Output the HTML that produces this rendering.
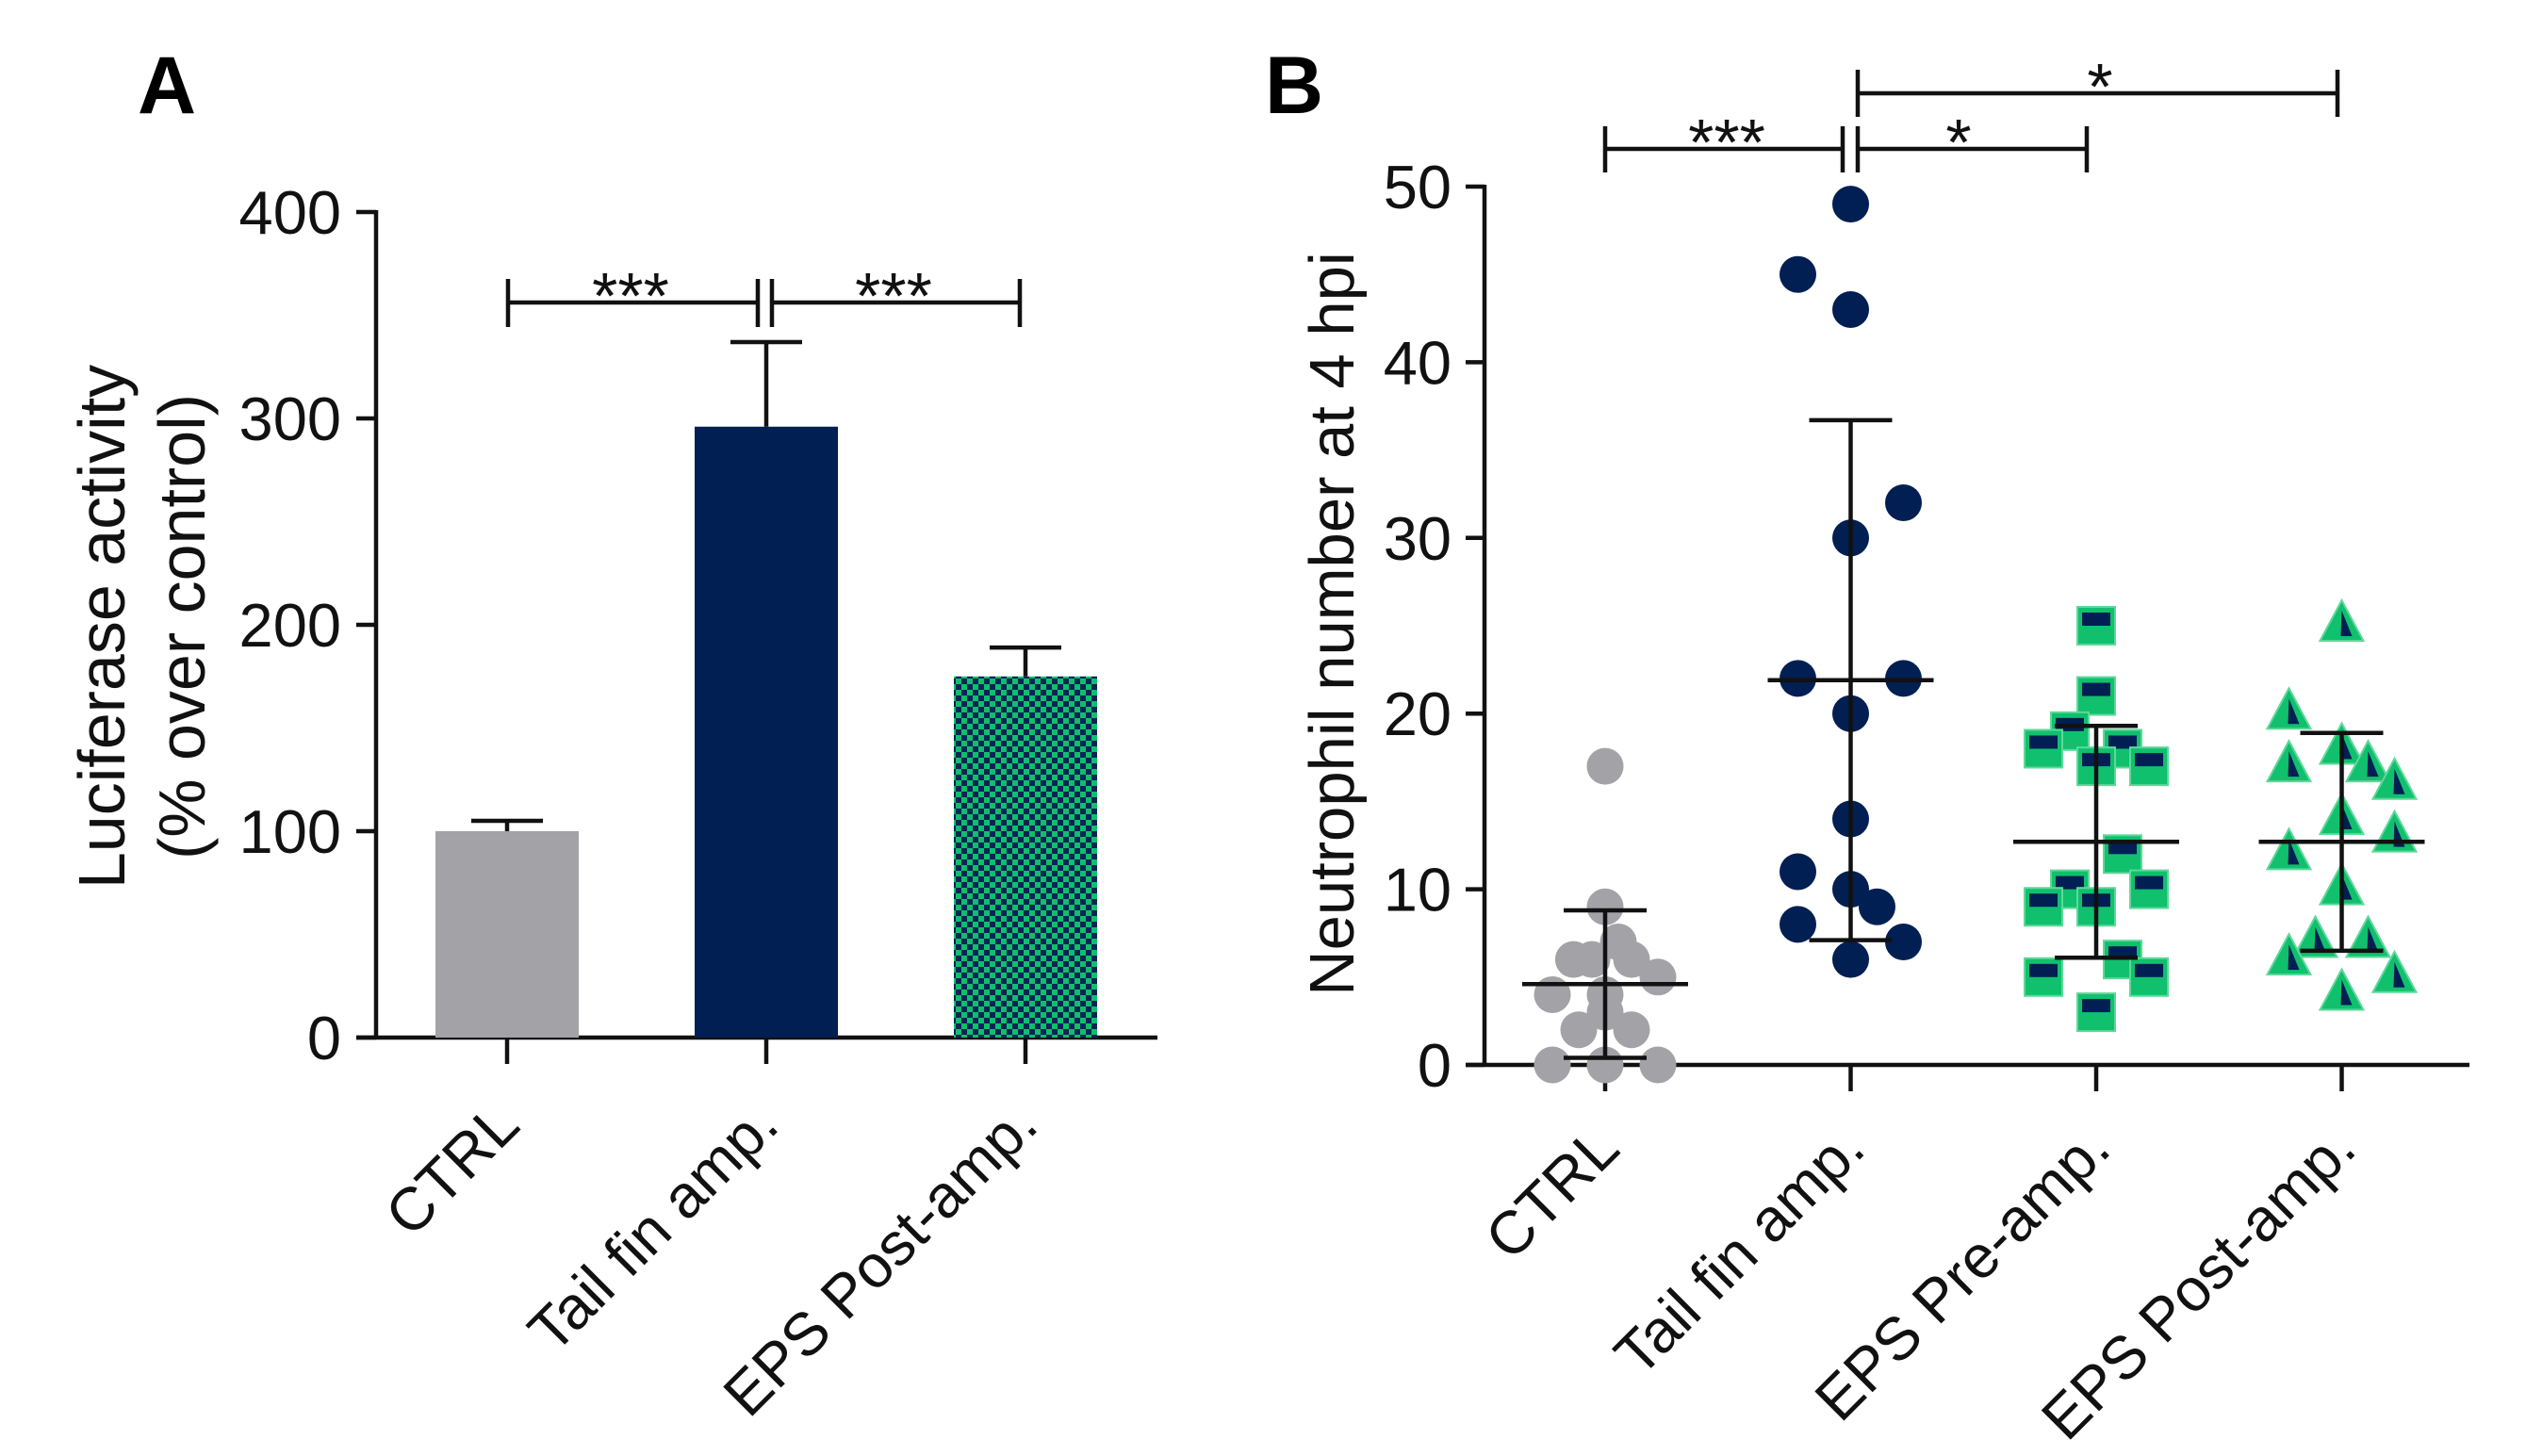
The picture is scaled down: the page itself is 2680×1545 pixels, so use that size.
<!DOCTYPE html>
<html><head><meta charset="utf-8"><style>
html,body{margin:0;padding:0;background:#fff;}
svg{display:block;font-family:"Liberation Sans",Arial,sans-serif;}
</style></head><body>
<svg id="fig" width="2680" height="1545" viewBox="0 0 2680 1545" xmlns="http://www.w3.org/2000/svg">
<defs>
<pattern id="chk" width="12" height="12" patternUnits="userSpaceOnUse">
<rect width="12" height="12" fill="#0fbf6c"/>
<rect width="6" height="6" fill="#0a2456"/>
<rect x="6" y="6" width="6" height="6" fill="#0a2456"/>
</pattern>
</defs>
<text x="146" y="120" font-size="86" font-weight="bold">A</text>
<text x="1342" y="120" font-size="86" font-weight="bold">B</text>
<g id="pa"></g>
<g id="pb"></g>
</svg>
<script>
// ---------- Panel A data ----------
const catsA = ["CTRL", "Tail fin amp.", "EPS Post-amp."];
const meansA = [100, 296, 175];
const errA = [5, 41, 14];
const ticksA = [0, 100, 200, 300, 400];
// ---------- Panel B data ----------
const catsB = ["CTRL", "Tail fin amp.", "EPS Pre-amp.", "EPS Post-amp."];
const ctrlVals = [17, 9, 7, 6, 6, 6, 5, 4, 4, 3, 2, 2, 0, 0, 0];
const ctrlJit = [0, 0, 0.5, -1.2, -0.5, 1, 2, -2, 0, 0, -1, 1, -2, 0, 2];
const tailVals = [49, 45, 43, 32, 30, 22, 22, 20, 14, 11, 10, 9, 8, 7, 6];
const tailJit = [0, -2, 0, 2, 0, -2, 2, 0, 0, -2, 0, 1, -2, 2, 0];
const preVals = [25, 21, 19, 18, 18, 17, 17, 12, 10, 10, 9, 9, 6, 5, 5, 3];
const preJit = [0, 0, -1, -2, 1, 0, 2, 1, -1, 2, -2, 0, 1, -2, 2, 0];
const postVals = [25, 20, 18, 17, 17, 16, 14, 13, 12, 10, 7, 7, 6, 5, 4];
const postJit = [0, -2, 0, -2, 1, 2, 0, 2, -2, 0, -1, 1, -2, 2, 0];
const meanB = [4.6, 21.9, 12.7, 12.7];
const sdB = [4.2, 14.8, 6.6, 6.2];
const ticksB = [0, 10, 20, 30, 40, 50];

const NS = "http://www.w3.org/2000/svg";
function mk(parent, tag, attrs, text) {
  const e = document.createElementNS(NS, tag);
  for (const k in attrs) e.setAttribute(k, attrs[k]);
  if (text !== undefined) e.textContent = text;
  parent.appendChild(e);
  return e;
}
const K = "#111";
const SW = 4.5;
// ---------- Panel A ----------
const pa = document.getElementById("pa");
const axA = {x0: 399, y0: 1101, x1: 1228, pxPer: 2.19};
const yA = v => axA.y0 - v * axA.pxPer;
const xA = i => 538 + i * 275;
let e;
e = mk(pa, "line", {x1: axA.x0, y1: yA(400) - 2, x2: axA.x0, y2: axA.y0, stroke: K, "stroke-width": SW});


e = mk(pa, "line", {x1: 378, y1: axA.y0, x2: axA.x1, y2: axA.y0, stroke: K, "stroke-width": SW});


ticksA.forEach(t => {
  e = mk(pa, "line", {x1: 378, y1: yA(t), x2: axA.x0, y2: yA(t), stroke: K, "stroke-width": SW});
  
  
  e = mk(pa, "text", {x: 362, y: yA(t) + 23, "font-size": 65, "text-anchor": "end", fill: K}, String(t));
  
  
});
const fillsA = ["#a3a2a7", "#011f52", "url(#chk)"];
catsA.forEach((c, i) => {
  const cx = xA(i), w = 152;
  e = mk(pa, "rect", {x: cx - w / 2, y: yA(meansA[i]), width: w, height: axA.y0 - yA(meansA[i]), fill: fillsA[i]});
  
  
  e = mk(pa, "line", {x1: cx, y1: yA(meansA[i]), x2: cx, y2: yA(meansA[i] + errA[i]), stroke: K, "stroke-width": SW});
  
  
  e = mk(pa, "line", {x1: cx - 38, y1: yA(meansA[i] + errA[i]), x2: cx + 38, y2: yA(meansA[i] + errA[i]), stroke: K, "stroke-width": SW});
  
  
  e = mk(pa, "line", {x1: cx, y1: axA.y0, x2: cx, y2: axA.y0 + 28, stroke: K, "stroke-width": SW});
  
  
  e = mk(pa, "text", {x: 0, y: 0, "font-size": 64, "text-anchor": "end", fill: K, transform: `translate(${cx + 16},${axA.y0 + 96}) rotate(-45)`}, c);
  
  
});
e = mk(pa, "text", {x: 0, y: 0, "font-size": 70, "text-anchor": "middle", fill: K, transform: "translate(132,665) rotate(-90)"}, "Luciferase activity");


e = mk(pa, "text", {x: 0, y: 0, "font-size": 70, "text-anchor": "middle", fill: K, transform: "translate(217,665) rotate(-90)"}, "(% over control)");


function bracket(g, x1, x2, y, yt, yb, label, lx, ly, name) {
  const b = mk(g, "g", {});
  
  
  mk(b, "line", {x1: x1, y1: y, x2: x2, y2: y, stroke: K, "stroke-width": SW});
  mk(b, "line", {x1: x1, y1: yt, x2: x1, y2: yb, stroke: K, "stroke-width": SW});
  mk(b, "line", {x1: x2, y1: yt, x2: x2, y2: yb, stroke: K, "stroke-width": SW});
  mk(b, "text", {x: lx, y: ly, "font-size": 70, "text-anchor": "middle", fill: K}, label);
}
bracket(pa, 539, 804, 321, 296, 347, "***", 669, 338, "sig-bracket-ctrl-tail");
bracket(pa, 819, 1082, 321, 296, 347, "***", 948, 338, "sig-bracket-tail-eps");

// ---------- Panel B ----------
const pb = document.getElementById("pb");
const axB = {x0: 1575, y0: 1130, x1: 2620, pxPer: 18.64};
const yB = v => axB.y0 - v * axB.pxPer;
const xB = i => 1703 + i * 260.5;
const J = 28;
e = mk(pb, "line", {x1: axB.x0, y1: yB(50) - 2, x2: axB.x0, y2: axB.y0, stroke: K, "stroke-width": SW});


e = mk(pb, "line", {x1: 1555, y1: axB.y0, x2: axB.x1, y2: axB.y0, stroke: K, "stroke-width": SW});


ticksB.forEach(t => {
  e = mk(pb, "line", {x1: 1555, y1: yB(t), x2: axB.x0, y2: yB(t), stroke: K, "stroke-width": SW});
  
  
  e = mk(pb, "text", {x: 1540, y: yB(t) + 23, "font-size": 65, "text-anchor": "end", fill: K}, String(t));
  
  
});
e = mk(pb, "text", {x: 0, y: 0, "font-size": 67, "text-anchor": "middle", fill: K, transform: "translate(1436,662) rotate(-90)"}, "Neutrophil number at 4 hpi");


catsB.forEach((c, i) => {
  const cx = xB(i);
  e = mk(pb, "line", {x1: cx, y1: axB.y0, x2: cx, y2: axB.y0 + 28, stroke: K, "stroke-width": SW});
  
  
  e = mk(pb, "text", {x: 0, y: 0, "font-size": 64, "text-anchor": "end", fill: K, transform: `translate(${cx + 18},${axB.y0 + 92}) rotate(-45)`}, c);
  
  
});
// points
ctrlVals.forEach((v, k) => {
  e = mk(pb, "circle", {cx: xB(0) + ctrlJit[k] * J, cy: yB(v), r: 19.5, fill: "#a3a2a7"});
  
  
});
tailVals.forEach((v, k) => {
  e = mk(pb, "circle", {cx: xB(1) + tailJit[k] * J, cy: yB(v), r: 19.5, fill: "#011f52"});
  
  
});
preVals.forEach((v, k) => {
  const cx = xB(2) + preJit[k] * J, cy = yB(v);
  const g = mk(pb, "g", {});
  
  
  mk(g, "rect", {x: cx - 20, y: cy - 20, width: 40, height: 40, fill: "#10c06d", stroke: "#5fd89a", "stroke-width": 2});
  mk(g, "rect", {x: cx - 15, y: cy - 14, width: 30, height: 14, fill: "#011f52"});
});
postVals.forEach((v, k) => {
  const cx = xB(3) + postJit[k] * J, cy = yB(v);
  const g = mk(pb, "g", {});
  
  
  mk(g, "polygon", {points: `${cx},${cy - 27} ${cx + 23},${cy + 16} ${cx - 23},${cy + 16}`, fill: "#10c06d", stroke: "#5fd89a", "stroke-width": 2});
  mk(g, "polygon", {points: `${cx},${cy - 16} ${cx + 11},${cy + 11} ${cx - 1},${cy + 11}`, fill: "#011f52"});
});
// mean & SD
catsB.forEach((c, i) => {
  const cx = xB(i);
  const g = mk(pb, "g", {});
  
  
  const top = Math.min(meanB[i] + sdB[i], 60), bot = Math.max(meanB[i] - sdB[i], 0);
  mk(g, "line", {x1: cx, y1: yB(top), x2: cx, y2: yB(bot), stroke: K, "stroke-width": SW});
  mk(g, "line", {x1: cx - 88, y1: yB(meanB[i]), x2: cx + 88, y2: yB(meanB[i]), stroke: K, "stroke-width": SW});
  mk(g, "line", {x1: cx - 44, y1: yB(top), x2: cx + 44, y2: yB(top), stroke: K, "stroke-width": SW});
  mk(g, "line", {x1: cx - 44, y1: yB(bot), x2: cx + 44, y2: yB(bot), stroke: K, "stroke-width": SW});
});
bracket(pb, 1703, 1955, 158, 134, 183, "***", 1832, 175, "sig-bracket-ctrl-tail-b");
bracket(pb, 1971, 2214, 158, 134, 183, "*", 2078, 175, "sig-bracket-tail-pre");
bracket(pb, 1971, 2480, 99, 74, 124, "*", 2228, 116, "sig-bracket-tail-post");
</script>
</body></html>
